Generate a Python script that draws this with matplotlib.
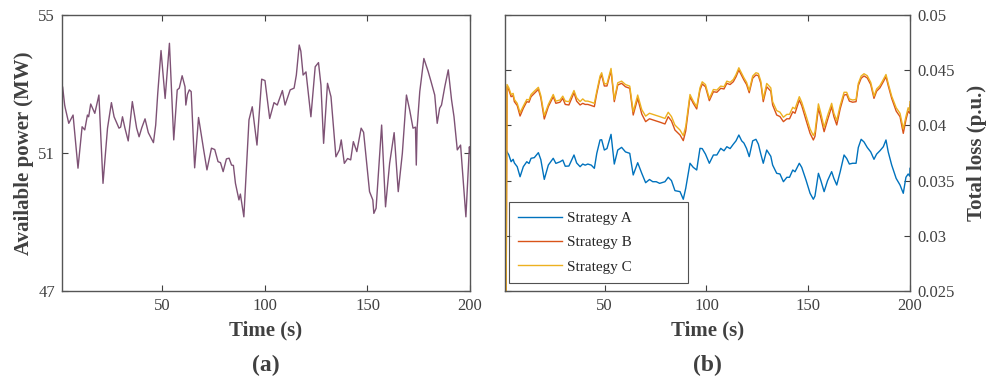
import matplotlib.pyplot as plt

plt.rcParams["font.family"] = ["Liberation Serif", "DejaVu Serif"]
plt.rcParams["text.color"] = "#404040"
plt.rcParams["axes.labelcolor"] = "#404040"
plt.rcParams["xtick.color"] = "#404040"
plt.rcParams["ytick.color"] = "#404040"

# (a) available power
t_power = [1, 1.3, 2.3, 2.6, 4.3, 6.4, 8.8, 10.8, 12.1, 13.4, 14, 15, 17, 19, 21,
           23.2, 25.1, 26.4, 28.8, 29.6, 30.5, 31.7, 33.3, 35.3, 37.4, 38.6, 39.9,
           41.5, 43.1, 45.6, 46.7, 47.7, 49.3, 51.3, 53.4, 55.5, 57.2, 58.2, 59.6,
           61, 61.4, 62.2, 63.1, 64, 65.7, 67.6, 70.1, 71.7, 73.9, 75.5, 77.1, 78.3,
           79.6, 81.2, 82.5, 83.7, 84.6, 85.6, 87.3, 88, 89.7, 92.2, 93.8, 96.1, 98.4,
           100, 102.3, 104.4, 106, 108.5, 109.8, 112.3, 114.2, 115.3, 116.7, 117.5,
           118.6, 120, 122.4, 124.5, 126.1, 127.3, 128.6, 130.5, 132.2, 134.6, 136.3,
           137.2, 138.7, 140.3, 141.8, 143.1, 144.8, 146.9, 148.1, 151, 152.6, 153.1,
           154.2, 156.9, 158.8, 160.8, 163, 165, 167, 169, 170.6, 172.2, 173.4, 173.8,
           174.2, 175.5, 177.5, 179.6, 181, 182.8, 184, 185.2, 186.1, 187.7, 189.4,
           191, 192.2, 193.8, 195.4, 198, 199.7, 200]
power = [52.55, 52.92, 52.39, 52.30, 51.86, 52.10, 50.56, 51.76, 51.67, 52.10, 52.05,
         52.42, 52.15, 52.68, 50.12, 51.72, 52.46, 52.05, 51.72, 51.75, 52.05, 51.72,
         51.35, 52.49, 51.72, 51.47, 51.73, 51.99, 51.59, 51.30, 51.81, 52.73, 53.97,
         52.58, 54.18, 51.38, 52.83, 52.88, 53.24, 52.92, 52.39, 52.70, 52.83, 52.78,
         50.57, 52.03, 51.09, 50.51, 51.14, 51.10, 50.75, 50.72, 50.46, 50.83, 50.85,
         50.65, 50.64, 50.12, 49.64, 49.81, 49.15, 51.96, 52.34, 51.23, 53.14, 53.10,
         52.00, 52.46, 52.39, 52.81, 52.39, 52.83, 52.88, 53.26, 54.13, 53.95, 53.26,
         53.35, 52.05, 53.50, 53.62, 52.97, 51.28, 53.02, 52.63, 50.89, 51.09, 51.38,
         50.70, 50.84, 50.80, 51.33, 51.04, 51.72, 51.60, 49.88, 49.64, 49.25, 49.40,
         51.81, 49.44, 50.70, 51.59, 49.88, 50.99, 52.68, 52.24, 51.72, 51.75, 50.65,
         51.72, 52.78, 53.74, 53.36, 53.07, 52.68, 51.86, 52.30, 52.39, 52.92, 53.41,
         52.54, 52.05, 51.09, 51.23, 49.15, 51.18, 51.00]

# (b) total loss for the three strategies
t_loss = [1, 2, 2.9, 4, 5, 5.6, 7, 8.4, 10, 11.7, 12.8, 13.8, 15.4, 17.4, 18.6, 20.3,
          22.3, 24.7, 26, 28, 29.4, 30.6, 32.4, 34.9, 36.2, 37.9, 39.2, 40.4, 41.7,
          43.4, 44.9, 46.1, 47.7, 48.5, 49.8, 51.1, 53.1, 54.7, 56.4, 58.3, 60.2,
          62.3, 64, 66.2, 68.2, 70.1, 72, 73.6, 75.3, 77, 79.6, 81.2, 82.8, 84.5, 87,
          88.6, 89.8, 91.9, 93.5, 95.2, 96.8, 97.9, 99.5, 101.4, 103.4, 105.1, 107,
          108.6, 110, 111.6, 113.2, 114.5, 115.9, 117.3, 118.4, 119.7, 121, 122.7,
          124.3, 125.5, 126.7, 127.9, 129.6, 131.6, 132.5, 134.5, 136.1, 137.8, 139.5,
          140.8, 142.4, 143.5, 145.6, 146.8, 148.9, 150.9, 152.5, 153.3, 155, 156.2,
          157.8, 159.5, 161.5, 162.6, 164, 165.7, 167.6, 168.9, 170.2, 171.8, 173.5,
          174.6, 176, 177.4, 179, 180.7, 182.3, 183.6, 185.2, 186.9, 188.2, 189.3,
          191, 193.2, 195.1, 196.7, 198, 199.1, 199.9, 200]
loss_b = [0.0, 0.0435, 0.0432, 0.0426, 0.0427, 0.04215, 0.0418, 0.04085, 0.04155,
          0.04215, 0.0421, 0.0426, 0.0429, 0.04327, 0.0425, 0.04058, 0.0417, 0.0426,
          0.0420, 0.0421, 0.04245, 0.0419, 0.04185, 0.04296, 0.0422, 0.04185, 0.0420,
          0.0419, 0.0419, 0.0418, 0.0417, 0.0429, 0.04427, 0.04457, 0.04357, 0.04357,
          0.04496, 0.04215, 0.04366, 0.04381, 0.0435, 0.04336, 0.04094, 0.04245,
          0.04103, 0.04034, 0.0406, 0.0405, 0.0404, 0.0403, 0.04013, 0.04079, 0.0404,
          0.03958, 0.03913, 0.03862, 0.0395, 0.0426, 0.0420, 0.04149, 0.0432, 0.04375,
          0.0435, 0.04224, 0.04305, 0.0430, 0.04336, 0.0433, 0.04381, 0.0437, 0.04396,
          0.0444, 0.04502, 0.0445, 0.04411, 0.0437, 0.04296, 0.04427, 0.04457, 0.0445,
          0.0438, 0.04215, 0.0435, 0.0431, 0.04185, 0.04094, 0.0408, 0.04034, 0.0406,
          0.0406, 0.04124, 0.0411, 0.0423, 0.0418, 0.04049, 0.03928, 0.03868, 0.0390,
          0.04155, 0.0407, 0.03943, 0.0405, 0.0417, 0.0408, 0.04004, 0.0415, 0.04275,
          0.0428, 0.0422, 0.0421, 0.04215, 0.0436, 0.04427, 0.04448, 0.0443, 0.0437,
          0.04245, 0.0431, 0.0434, 0.04396, 0.04441, 0.0436, 0.04245, 0.0413, 0.04079,
          0.03928, 0.0405, 0.0413, 0.0411, 0.04185]
loss_c = [0.0, 0.0437, 0.0434, 0.0428, 0.0429, 0.04235, 0.0420, 0.04115, 0.04175,
          0.04235, 0.0423, 0.0428, 0.0431, 0.04345, 0.0427, 0.04088, 0.0419, 0.0428,
          0.0422, 0.0423, 0.04265, 0.0422, 0.04215, 0.04316, 0.0425, 0.04215, 0.0424,
          0.0422, 0.0422, 0.0421, 0.0420, 0.0431, 0.04447, 0.04477, 0.04377, 0.04377,
          0.04516, 0.04235, 0.04386, 0.04401, 0.0437, 0.04356, 0.04124, 0.04275,
          0.04143, 0.04084, 0.0411, 0.0410, 0.0409, 0.0408, 0.04063, 0.04119, 0.0408,
          0.04003, 0.03958, 0.03907, 0.0399, 0.0428, 0.0422, 0.04169, 0.0434, 0.04395,
          0.0437, 0.04244, 0.04325, 0.0432, 0.04356, 0.0435, 0.04401, 0.0439, 0.04416,
          0.0446, 0.04522, 0.0447, 0.04431, 0.0439, 0.04316, 0.04447, 0.04477, 0.0447,
          0.0440, 0.04240, 0.0438, 0.0434, 0.04215, 0.04134, 0.0412, 0.04074, 0.0410,
          0.0410, 0.04164, 0.0415, 0.0426, 0.0421, 0.04089, 0.03968, 0.03908, 0.0394,
          0.04195, 0.0411, 0.03983, 0.0409, 0.0420, 0.0411, 0.04044, 0.0418, 0.04300,
          0.0430, 0.0424, 0.0423, 0.04235, 0.0438, 0.04447, 0.04468, 0.0445, 0.0439,
          0.04265, 0.0433, 0.0436, 0.04416, 0.04461, 0.0438, 0.04265, 0.0416, 0.04109,
          0.03968, 0.0408, 0.0416, 0.0413, 0.04215]
loss_a = [0.0380, 0.0376, 0.03732, 0.03671, 0.03693, 0.03660, 0.03626, 0.03535,
          0.03626, 0.03671, 0.03655, 0.03702, 0.03708, 0.03753, 0.03690, 0.03511,
          0.03641, 0.03702, 0.03656, 0.03670, 0.03686, 0.03630, 0.03632, 0.03732,
          0.03660, 0.03626, 0.03650, 0.03640, 0.03650, 0.03640, 0.03611, 0.03747,
          0.03868, 0.03870, 0.03777, 0.03790, 0.03919, 0.03650, 0.03777, 0.03801,
          0.03760, 0.03747, 0.03551, 0.03662, 0.03566, 0.03481, 0.03510, 0.03490,
          0.03490, 0.03475, 0.03490, 0.03530, 0.03500, 0.03409, 0.03400, 0.03331,
          0.03430, 0.03657, 0.03620, 0.03596, 0.03792, 0.03790, 0.03740, 0.03657,
          0.03732, 0.03732, 0.03792, 0.03770, 0.03807, 0.03790, 0.03830, 0.03860,
          0.03913, 0.03860, 0.03840, 0.03790, 0.03717, 0.03860, 0.03874, 0.03830,
          0.03740, 0.03657, 0.03777, 0.03720, 0.03641, 0.03566, 0.03560, 0.03490,
          0.03530, 0.03530, 0.03596, 0.03580, 0.03657, 0.03620, 0.03505, 0.03385,
          0.03331, 0.03360, 0.03566, 0.03500, 0.03400, 0.03500, 0.03581, 0.03520,
          0.03460, 0.03580, 0.03732, 0.03700, 0.03650, 0.03657, 0.03657, 0.03800,
          0.03874, 0.03850, 0.03800, 0.03760, 0.03693, 0.03740, 0.03770, 0.03807,
          0.03868, 0.03760, 0.03641, 0.03520, 0.03460, 0.03385, 0.03530, 0.03560,
          0.03540, 0.03611]

fig = plt.figure(figsize=(9.88, 3.85), dpi=100)
ax1 = fig.add_axes([62 / 988, 94 / 385, 408 / 988, 276 / 385])
ax2 = fig.add_axes([505 / 988, 94 / 385, 405 / 988, 276 / 385])

ax1.plot(t_power, power, color="#7E5275", lw=1.0)
ax1.set_xlim(1, 200)
ax1.set_ylim(47, 55)
ax1.set_yticks([47, 51, 55])
ax1.set_ylabel("Available power (MW)", fontsize=15, fontweight="bold", labelpad=3)

ax2.plot(t_loss, loss_a, color="#0072BD", lw=1.0, label="Strategy A")
ax2.plot(t_loss, loss_b, color="#D95319", lw=1.0, label="Strategy B")
ax2.plot(t_loss, loss_c, color="#EDB120", lw=1.0, label="Strategy C")
ax2.set_xlim(1, 200)
ax2.set_ylim(0.025, 0.05)
ax2.set_yticks([0.025, 0.03, 0.035, 0.04, 0.045, 0.05])
ax2.set_yticklabels(["0.025", "0.03", "0.035", "0.04", "0.045", "0.05"])
ax2.yaxis.set_label_position("right")
ax2.set_ylabel("Total loss (p.u.)", fontsize=15, fontweight="bold", labelpad=9)

# wide legend box in the lower-left corner
leg = ax2.legend(loc="lower left", bbox_to_anchor=(0.01, 0.029, 0.442, 0.286),
                 mode="expand", borderaxespad=0, fontsize=11, frameon=True,
                 fancybox=False, edgecolor="#262626", handlelength=2.85,
                 handletextpad=0.35, borderpad=0.6, labelspacing=0.7)
leg.get_frame().set_linewidth(0.8)
for txt in leg.get_texts():
    txt.set_color("#262626")

for ax, tag in [(ax1, "(a)"), (ax2, "(b)")]:
    ax.set_xticks([50, 100, 150, 200])
    ax.set_xlabel("Time (s)", fontsize=15, fontweight="bold", labelpad=5)
    ax.tick_params(direction="in", length=4, width=0.8, labelsize=12, pad=5,
                   top=True, right=True)
    for s in ax.spines.values():
        s.set_color("#555555")
        s.set_linewidth(1.0)
    ax.text(0.5, -0.268, tag, transform=ax.transAxes, ha="center", va="center",
            fontsize=17, fontweight="bold")

ax2.tick_params(axis="y", labelleft=False, labelright=True)

fig.savefig("out.png", dpi=100)
